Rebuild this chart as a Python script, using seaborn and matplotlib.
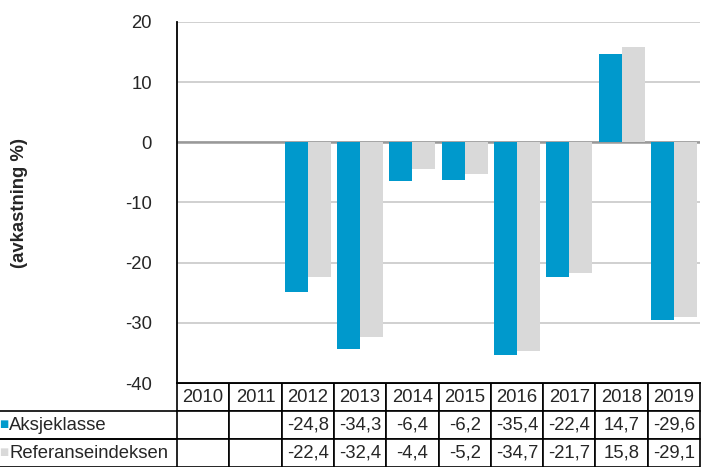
import numpy as np
import pandas as pd
import seaborn as sns
from matplotlib import pyplot as plt

years = ['2010', '2011', '2012', '2013', '2014', '2015', '2016', '2017', '2018', '2019']
aksjeklasse = [np.nan, np.nan, -24.8, -34.3, -6.4, -6.2, -35.4, -22.4, 14.7, -29.6]
referanse = [np.nan, np.nan, -22.4, -32.4, -4.4, -5.2, -34.7, -21.7, 15.8, -29.1]
series_names = ['Aksjeklasse', 'Referanseindeksen']
colors = ['#0099CC', '#D9D9D9']
yticks = [20, 10, 0, -10, -20, -30, -40]

sns.set_theme(style='white')
plt.rcParams['font.family'] = ['Liberation Sans', 'DejaVu Sans']
fs = 13.3

df = pd.DataFrame({
    'year': years * 2,
    'value': aksjeklasse + referanse,
    'series': [series_names[0]] * len(years) + [series_names[1]] * len(years),
}).dropna()

W, H = 701, 467
fig = plt.figure(figsize=(W / 100, H / 100), dpi=100)
ax = fig.add_axes([177 / W, 1 - 383 / H, 523 / W, 361 / H])

sns.barplot(data=df, x='year', y='value', hue='series', order=years,
            hue_order=series_names, palette=colors, width=0.88, saturation=1,
            legend=False, ax=ax, zorder=3, linewidth=0, errorbar=None)

ax.set_ylim(-40, 20)
ax.set_xlim(-0.5, len(years) - 0.5)
ax.set_yticks(yticks)
ax.set_yticklabels([str(t) for t in yticks], fontsize=fs)
ax.tick_params(axis='y', left=False, pad=12)
ax.tick_params(axis='x', bottom=False, labelbottom=False)
ax.set_xlabel('')
ax.set_ylabel('(avkastning %)', fontsize=fs, fontweight='bold')
ax.yaxis.set_label_coords(-149 / 523, 0.5)
ax.yaxis.grid(True, color='#C8C8C8', linewidth=1.2, zorder=0)
ax.axhline(0, color='#999999', linewidth=1.8, zorder=2)
for s in ['top', 'right']:
    ax.spines[s].set_visible(False)
ax.spines['left'].set_color('black')
ax.spines['left'].set_linewidth(1.3)
ax.spines['bottom'].set_color('black')
ax.spines['bottom'].set_linewidth(1.3)

def fmt(v):
    return '' if np.isnan(v) else f'{v:.1f}'.replace('.', ',')

cell_text = [[''] + years,
             [series_names[0]] + [fmt(v) for v in aksjeklasse],
             [series_names[1]] + [fmt(v) for v in referanse]]
col_w = [177 / 700] + [52.3 / 700] * len(years)
tab = ax.table(cellText=cell_text, colWidths=col_w, cellLoc='center',
               bbox=[-177 / 523, -84 / 361, 700 / 523, 84 / 361])
tab.auto_set_font_size(False)
tab.set_fontsize(fs)
for (r, c), cell in tab.get_celld().items():
    cell.set_linewidth(1.2)
    cell.set_edgecolor('black')
    if c == 0:
        if r == 0:
            cell.visible_edges = 'open'
        else:
            cell.visible_edges = 'TB'
            cell._loc = 'left'
            cell.PAD = 9 / 177
            cell.get_text().set_horizontalalignment('left')

# legend squares beside the row labels
for i, col in enumerate(colors):
    y = 1 - (409 + 15 + 28 * i) / H
    fig.text(-1 / W, y, '■', color=col, fontsize=7, va='center', ha='left',
             family='DejaVu Sans')

fig.savefig('out.png', dpi=100)
